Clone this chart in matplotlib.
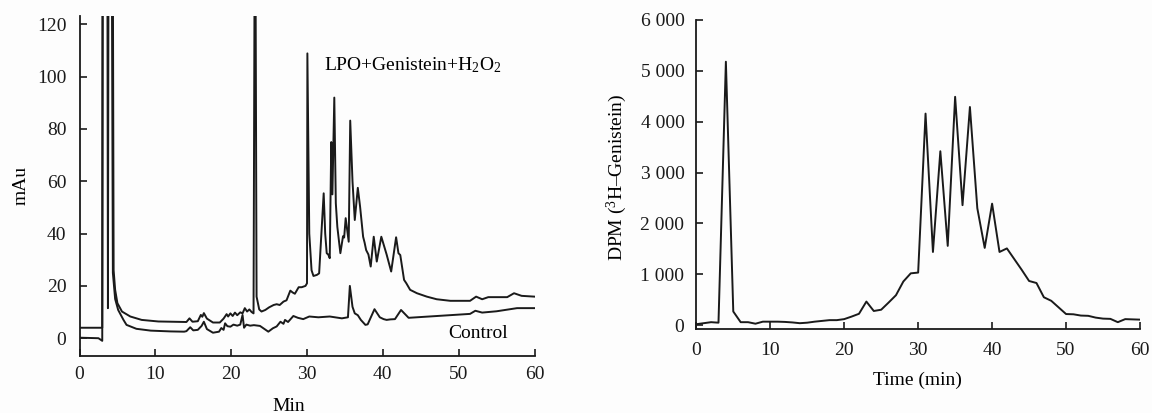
import matplotlib
matplotlib.use("Agg")
import matplotlib.pyplot as plt

plt.rcParams['font.family'] = ['Liberation Serif', 'DejaVu Serif']
plt.rcParams['mathtext.fontset'] = 'custom'
plt.rcParams['mathtext.rm'] = 'Liberation Serif'
plt.rcParams['mathtext.default'] = 'regular'

# ---- Left panel: HPLC chromatogram (mAu vs Min) ----
lpo_t = [0, 3.0, 3.05, 3.65, 3.75, 3.85, 4.35, 4.5, 4.7, 5.0, 5.6, 6.7, 8.2, 10.4, 14.1,
         14.5, 14.9, 15.6, 16.0, 16.2, 16.4, 16.8, 17.6, 18.5, 19.0, 19.4, 19.6, 19.9,
         20.2, 20.5, 20.8, 21.2, 21.5, 21.8, 22.1, 22.4, 22.7, 22.95, 23.15, 23.35, 23.7,
         24.0, 24.5, 25.0, 25.6, 26.0, 26.4, 26.9, 27.3, 27.8, 28.1, 28.4, 28.9, 29.3,
         29.8, 30.0, 30.05, 30.3, 30.6, 30.85, 31.3, 31.6, 31.8, 32.2, 32.4, 32.6, 32.8,
         33.0, 33.2, 33.35, 33.6, 33.8, 34.0, 34.4, 34.75, 34.9, 35.1, 35.5, 35.7, 36.0,
         36.3, 36.7, 37.0, 37.4, 37.6, 37.8, 38.1, 38.4, 38.8, 39.2, 39.8, 40.5, 41.1,
         41.75, 42.06, 42.3, 42.8, 43.1, 43.6, 44.5, 45.8, 47.1, 48.9, 51.5, 52.3, 53.1,
         53.9, 56.4, 57.3, 58.3, 60.0]
lpo_v = [4.0, 4.0, 200, 200, 11.5, 200, 200, 26, 18.5, 13.4, 10.2, 8.3, 7.0, 6.4, 6.2,
         7.6, 6.3, 6.5, 8.9, 8.2, 9.6, 7.5, 6.0, 6.0, 7.5, 9.2, 8.3, 9.5,
         8.5, 9.8, 8.8, 9.9, 9.5, 11.5, 10.2, 11.0, 10.0, 9.5, 200, 15.9, 11.0,
         10.2, 10.8, 11.8, 12.7, 13.0, 12.7, 14.0, 14.5, 18.2, 17.5, 17.0, 19.5, 19.5,
         20.0, 21.0, 108.9, 40, 26, 23.8, 24.2, 24.8, 35, 55.4, 40, 32.5, 32.0,
         30.6, 75, 55, 92, 51.6, 42.6, 32.5, 39, 38.5, 45.9, 36.9, 83.2, 60,
         45.2, 57.5, 50.3, 38.8, 36.5, 33.7, 32.0, 27.4, 38.8, 29.3, 38.8, 32.0, 25.5,
         38.6, 32.5, 31.8, 22.3, 21.0, 18.5, 17.2, 15.9, 14.9, 14.3, 14.3, 15.9, 14.9,
         15.7, 15.7, 17.2, 16.2, 15.9]

ctrl_t = [0, 2.5, 3.0, 3.1, 4.2, 4.4, 4.7, 5.1, 5.8, 6.2, 7.5, 9.4, 12.0, 13.8, 14.1,
          14.6, 15.0, 15.6, 16.1, 16.4, 16.8, 17.6, 18.4, 18.7, 19.0, 19.2, 19.5, 19.9,
          20.3, 20.8, 21.2, 21.5, 21.7, 22.0, 22.5, 23.0, 23.8, 24.4, 24.9, 25.5, 26.0,
          26.5, 26.9, 27.1, 27.5, 28.2, 28.8, 29.5, 30.3, 31.5, 33.0, 34.6, 35.4, 35.65,
          36.0, 36.3, 36.7, 37.1, 37.7, 38.0, 38.9, 39.6, 40.1, 40.5, 41.0, 41.6, 42.4,
          43.4, 51.5, 52.2, 53.1, 55.0, 57.7, 60.0]
ctrl_v = [0.2, 0.0, -1.0, 200, 200, 25, 15, 10.8, 7.0, 5.1, 3.6, 2.9, 2.6, 2.5, 2.7,
          4.2, 3.0, 3.2, 4.7, 6.3, 3.5, 2.1, 2.5, 3.9, 3.2, 5.7, 4.6, 4.4,
          5.2, 4.8, 5.2, 8.9, 4.0, 5.2, 4.8, 5.0, 4.7, 3.5, 2.5, 3.8, 4.5,
          6.3, 5.5, 7.0, 6.2, 8.5, 7.8, 7.3, 8.3, 8.0, 8.3, 7.6, 8.0, 20,
          12, 9.5, 8.8, 7.0, 5.1, 5.3, 11.1, 8.0, 7.3, 7.0, 7.2, 7.3, 10.8,
          7.8, 9.3, 10.5, 9.8, 10.3, 11.5, 11.5]

left_xticks = [0, 10, 20, 30, 40, 50, 60]
left_yticks = [0, 20, 40, 60, 80, 100, 120]

# ---- Right panel: radioactivity (DPM) per fraction ----
dpm_t = list(range(0, 61))
dpm_v = [20, 40, 60, 50, 5180, 270, 60, 60, 30, 70, 70, 70, 65, 55, 40, 50, 70, 85, 100,
         100, 120, 170, 225, 465, 280, 305, 445, 590, 860, 1020, 1035, 4160, 1440, 3420,
         1560, 4490, 2360, 4290, 2300, 1520, 2390, 1440, 1510, 1300, 1090, 870, 830, 550,
         480, 350, 220, 215, 190, 185, 150, 130, 125, 60, 120, 115, 110]

right_xticks = [0, 10, 20, 30, 40, 50, 60]
right_yticks = [0, 1000, 2000, 3000, 4000, 5000, 6000]
right_yticklabels = ['0', '1 000', '2 000', '3 000', '4 000', '5 000', '6 000']

W, H = 1152, 413
bg = '#fdfdfd'
fig = plt.figure(figsize=(W / 100, H / 100), dpi=100, facecolor=bg)

def px_axes(l, t, r, b):
    return fig.add_axes([l / W, 1 - b / H, (r - l) / W, (b - t) / H])

lw = 1.4
fs = 14
ink = '#1a1a1a'

ax1 = px_axes(79.5, 16, 534.5, 356)
ax1.set_facecolor(bg)
ax1.plot(lpo_t, lpo_v, color=ink, lw=lw)
ax1.plot(ctrl_t, ctrl_v, color=ink, lw=lw)
ax1.set_xlim(0, 60)
ax1.set_ylim(-6.8, 123.2)
ax1.set_xticks(left_xticks)
ax1.set_yticks(left_yticks)
ax1.text(32.3, 102.3, r'LPO+Genistein+H$_2$O$_2$', fontsize=fs, ha='left', va='baseline')
ax1.text(48.6, 0.0, 'Control', fontsize=fs, ha='left', va='baseline')

ax2 = px_axes(696.3, 20, 1140, 329.3)
ax2.set_facecolor(bg)
ax2.plot(dpm_t, dpm_v, color=ink, lw=lw)
ax2.set_xlim(0, 60)
ax2.set_ylim(-80, 6000)
ax2.set_xticks(right_xticks)
ax2.set_yticks(right_yticks)
ax2.set_yticklabels(right_yticklabels)

for ax in (ax1, ax2):
    for s in ('top', 'right'):
        ax.spines[s].set_visible(False)
    for s in ('left', 'bottom'):
        ax.spines[s].set_linewidth(1.3)
        ax.spines[s].set_color(ink)
    ax.tick_params(direction='in', length=5, width=1.2, labelsize=fs, colors=ink)

ax1.tick_params(axis='x', pad=7)
ax1.tick_params(axis='y', pad=9.5)
ax2.tick_params(axis='x', pad=9.5)
ax2.tick_params(axis='y', pad=8.5)

fig.text(21 / W, 1 - 185 / H, 'mAu', rotation=90, ha='center', va='center', fontsize=fs)
fig.text(289 / W, 1 - 411 / H, 'Min', ha='center', va='baseline', fontsize=fs)
fig.text(617 / W, 1 - 177.5 / H, 'DPM ($^{3}$H\u2013Genistein)', rotation=90,
         ha='center', va='center', fontsize=fs)
fig.text(917.5 / W, 1 - 384.5 / H, 'Time (min)', ha='center', va='baseline', fontsize=fs)

fig.savefig('out.png', dpi=100, facecolor=bg)
